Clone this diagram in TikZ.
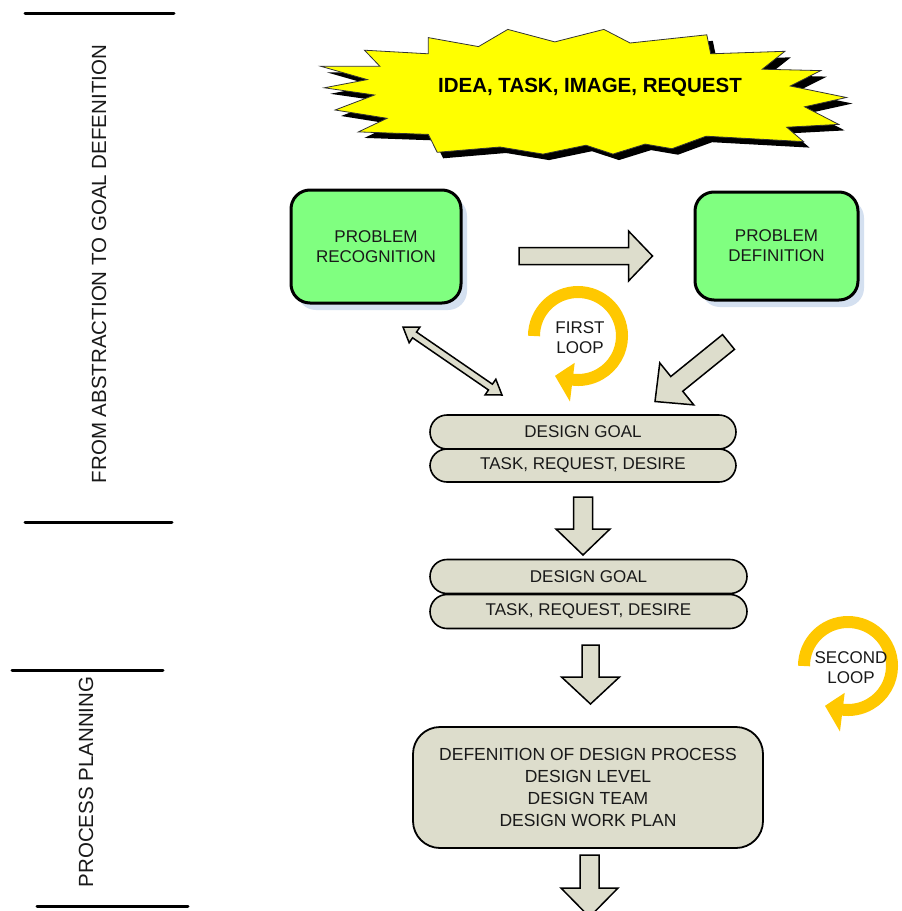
\documentclass[tikz,border=0pt]{standalone}
\usepackage{fontspec}
\setmainfont{Liberation Sans}
\usetikzlibrary{calc,shadows}

\definecolor{boxgreen}{RGB}{128,255,128}
\definecolor{stone}{RGB}{221,221,204}
\definecolor{loopgold}{RGB}{255,200,0}
\definecolor{shadowblue}{RGB}{212,224,240}
\definecolor{burst}{RGB}{255,255,0}

\tikzset{
  txt/.style={font=\fontsize{17}{20}\selectfont, align=center, text=black!90},
  greenbox/.style={txt, draw=black, line width=3pt, fill=boxgreen, rounded corners=19pt,
    drop shadow={shadow xshift=6pt, shadow yshift=-7pt, fill=shadowblue, opacity=1}},
  pill/.style={txt, draw=black, line width=1.6pt, fill=stone, rounded corners=17pt,
    minimum height=34pt, inner sep=0pt},
  planbox/.style={txt, draw=black, line width=1.8pt, fill=stone, rounded corners=27pt,
    font=\fontsize{17.5}{22}\selectfont},
  blockarrow/.style={draw=black, line width=1.5pt, fill=stone, line join=miter},
  loopring/.style={draw=loopgold, line width=12pt},
  phaseline/.style={line width=3pt, line cap=round},
  phasetext/.style={rotate=90, font=\fontsize{20.5}{24}\selectfont, text=black!90}
}

% fat arrow from #1 to #2: shaft half width #3, head half width #4, head length #5
\newcommand{\fatarrow}[5]{%
  \coordinate (fa-h) at ($(#2)!#5!(#1)$);
  \draw[blockarrow] ($(#1)!#3!90:(#2)$) -- ($(fa-h)!#3!-90:(#1)$)
    -- ($(fa-h)!#4!-90:(#1)$) -- (#2) -- ($(fa-h)!#4!90:(#1)$)
    -- ($(fa-h)!#3!90:(#1)$) -- ($(#1)!#3!-90:(#2)$) -- cycle;}

% two-headed fat arrow between #1 and #2
\newcommand{\dblarrow}[5]{%
  \coordinate (da-h) at ($(#2)!#5!(#1)$);
  \coordinate (da-g) at ($(#1)!#5!(#2)$);
  \draw[blockarrow] (#1) -- ($(da-g)!#4!90:(#2)$) -- ($(da-g)!#3!90:(#2)$)
    -- ($(da-h)!#3!-90:(#1)$) -- ($(da-h)!#4!-90:(#1)$) -- (#2)
    -- ($(da-h)!#4!90:(#1)$) -- ($(da-h)!#3!90:(#1)$)
    -- ($(da-g)!#3!-90:(#2)$) -- ($(da-g)!#4!-90:(#2)$) -- cycle;}

% circular loop arrow around centre #1
\newcommand{\looparrow}[1]{%
  \draw[loopring] ($(#1)+(-180:44)$) arc[start angle=-180, end angle=99, radius=44];
  \fill[loopgold] ($(#1)+(97:27)$) -- ($(#1)+(120:46)$) -- ($(#1)+(97:66)$) -- cycle;}

\begin{document}
\begin{tikzpicture}[x=1pt, y=-1pt]
\useasboundingbox (0,0) rectangle (902,911);
\clip (0,0) rectangle (902,911);
\fill[white] (0,0) rectangle (902,911);

% phase markers on the left
\draw[phaseline] (25,13) -- (174,13);
\draw[phaseline] (25,522) -- (172,522);
\node[phasetext] (phase1) at (99,264) {FROM ABSTRACTION TO GOAL DEFENITION};
\draw[phaseline] (12,670) -- (163,670);
\draw[phaseline] (37,906) -- (188,906);
\node[phasetext] (phase2) at (86,782) {PROCESS PLANNING};

% starburst
\def\burstpath{(428.3,37.6) -- (478.5,46.6) -- (507.8,29.4) -- (554.8,41.9) -- (603.9,29.4)
  -- (630.1,43) -- (706.8,34.8) -- (710.7,53.8) -- (784.9,51.3) -- (762.3,69.2)
  -- (820.8,70.6) -- (790.3,86) -- (846.5,97.5) -- (804.6,106.8) -- (838.7,124.4)
  -- (786.7,127.2) -- (803.5,141.6) -- (706.1,136.2) -- (672,148.7) -- (645.1,144.1)
  -- (612.9,154.1) -- (586,145.2) -- (543,154.1) -- (500,147) -- (437.2,152.3)
  -- (428.3,134.4) -- (358.4,131.9) -- (387.1,118.3) -- (335.1,110) -- (374.5,95)
  -- (324.3,87.8) -- (367.3,79.6) -- (320.8,66.3) -- (379.9,66.3) -- (364.5,50.2)
  -- (428.3,53.8) -- cycle}
\fill[black, shift={(6,6)}] \burstpath;
\draw[fill=burst, draw=black!80, line width=0.8pt] \burstpath;
\node[font=\bfseries\fontsize{20.5}{24}\selectfont] (idea) at (590,87) {IDEA, TASK, IMAGE, REQUEST};

% problem boxes
\node[greenbox, minimum width=170pt, minimum height=113pt] (pr) at (376,246.5) {PROBLEM\\RECOGNITION};
\node[greenbox, minimum width=163pt, minimum height=108pt] (pd) at (776.5,246) {PROBLEM\\DEFINITION};

% first design goal pair
\node[pill, minimum width=306pt] (dg1) at (583,432) {DESIGN GOAL};
\node[pill, minimum width=306pt, minimum height=33pt] (tr1) at (583,465.5) {TASK, REQUEST, DESIRE};

% second design goal pair
\node[pill, minimum width=317pt] (dg2) at (588.5,576.5) {DESIGN GOAL};
\node[pill, minimum width=317pt] (tr2) at (588.5,611.5) {TASK, REQUEST, DESIRE};

% process definition box
\node[planbox, minimum width=350pt, minimum height=121pt] (proc) at (588,787.5)
  {DEFENITION OF DESIGN PROCESS\\DESIGN LEVEL\\DESIGN TEAM\\DESIGN WORK PLAN};

% loops
\coordinate (loop1c) at (578,336);
\looparrow{loop1c}
\node[txt] (loop1) at (580,338) {FIRST\\LOOP};
\coordinate (loop2c) at (848,666);
\looparrow{loop2c}
\node[txt] (loop2) at (851,668) {SECOND\\LOOP};

% arrow ends
\coordinate (pr-out) at (519,256);
\coordinate (pd-in) at (652.5,256);
\coordinate (pr-diag) at (403,327);
\coordinate (dg-left) at (502,395);
\coordinate (pd-diag) at (728.5,342);
\coordinate (dg-right) at (655,401.5);
\coordinate (tr1-out) at (583,497);
\coordinate (dg2-in) at (583,555);
\coordinate (tr2-out) at (590.5,645);
\coordinate (proc-in) at (590.5,704);
\coordinate (proc-out) at (589.5,855);
\coordinate (next-in) at (589.5,917);

% connectors
\fatarrow{pr-out}{pd-in}{8.5pt}{25pt}{24pt}
\dblarrow{pr-diag}{dg-left}{3.5pt}{9.5pt}{14pt}
\fatarrow{pd-diag}{dg-right}{9.5pt}{27pt}{28pt}
\fatarrow{tr1-out}{dg2-in}{9.5pt}{27pt}{26pt}
\fatarrow{tr2-out}{proc-in}{8.5pt}{29pt}{27pt}
\fatarrow{proc-out}{next-in}{9.5pt}{28.5pt}{29pt}
\end{tikzpicture}
\end{document}
